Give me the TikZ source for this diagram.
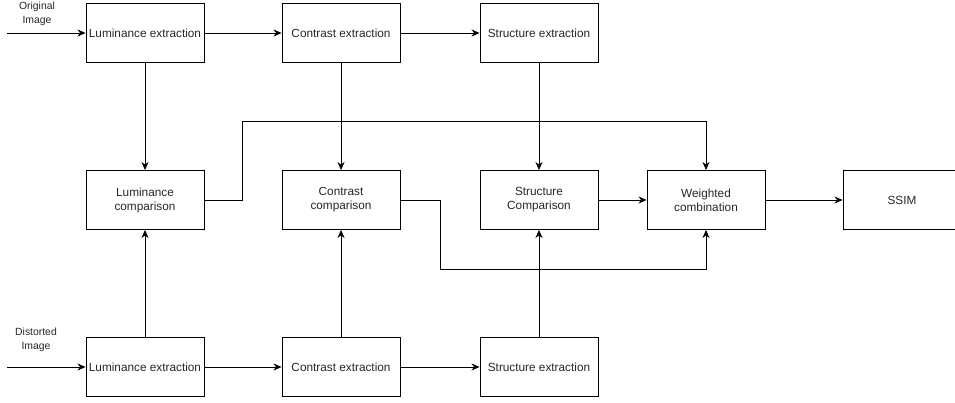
\documentclass[tikz,border=0pt]{standalone}
\usepackage{fontspec}
\setmainfont{Liberation Sans}
\usetikzlibrary{arrows.meta}
\begin{document}
\begin{tikzpicture}[x=1pt,y=-1pt,
  blk/.style={draw=black,line width=0.9pt,minimum width=118pt,minimum height=59pt,inner sep=0pt,align=center,font=\fontsize{11.8}{14}\selectfont,text=black!85},
  lbl/.style={align=center,inner sep=0pt,font=\fontsize{10.4}{14}\selectfont,text=black!85},
  conn/.style={line width=0.9pt,-{Stealth[length=8pt,width=7pt,inset=2.5pt]}},
  wire/.style={line width=0.9pt}]
\useasboundingbox (0,0) rectangle (955,403);
\clip (0,0) rectangle (955,403);
% top row
\node[blk] (le1) at (145,33) {Luminance extraction};
\node[blk] (ce1) at (341,33) {Contrast extraction};
\node[blk] (se1) at (539,33) {Structure extraction};
% middle row
\node[blk] (lc) at (145,200) {Luminance\\comparison};
\node[blk] (cc) at (341,200) {Contrast\\comparison};
\node[blk] (sc) at (539,200) {Structure\\Comparison};
\node[blk] (wc) at (706,200) {Weighted\\combination};
\node[blk] (ssim) at (902,200) {SSIM};
% bottom row
\node[blk] (le2) at (145,367) {Luminance extraction};
\node[blk] (ce2) at (341,367) {Contrast extraction};
\node[blk] (se2) at (539,367) {Structure extraction};
% inputs
\coordinate (in1) at (7,33);
\coordinate (in2) at (7,367);
\node[lbl] (orig) at (37,14) {Original\\Image};
\node[lbl] (dist) at (36,340) {Distorted\\Image};
\draw[conn] (in1) -- (le1);
\draw[conn] (in2) -- (le2);
% horizontal chains
\draw[conn] (le1) -- (ce1);
\draw[conn] (ce1) -- (se1);
\draw[conn] (le2) -- (ce2);
\draw[conn] (ce2) -- (se2);
% vertical
\draw[conn] (le1) -- (lc);
\draw[conn] (ce1) -- (cc);
\draw[conn] (se1) -- (sc);
\draw[conn] (le2) -- (lc);
\draw[conn] (ce2) -- (cc);
\draw[conn] (se2) -- (sc);
% to weighted
\coordinate (a1) at (242,200);
\coordinate (a2) at (242,121.7);
\coordinate (b1) at (440,200);
\coordinate (b2) at (440,269);
\draw[conn] (lc.east) -- (a1) -- (a2) -| (wc.north);
\draw[conn] (cc.east) -- (b1) -- (b2) -| (wc.south);
\draw[conn] (sc) -- (wc);
\draw[conn] (wc) -- (ssim);
\end{tikzpicture}
\end{document}
